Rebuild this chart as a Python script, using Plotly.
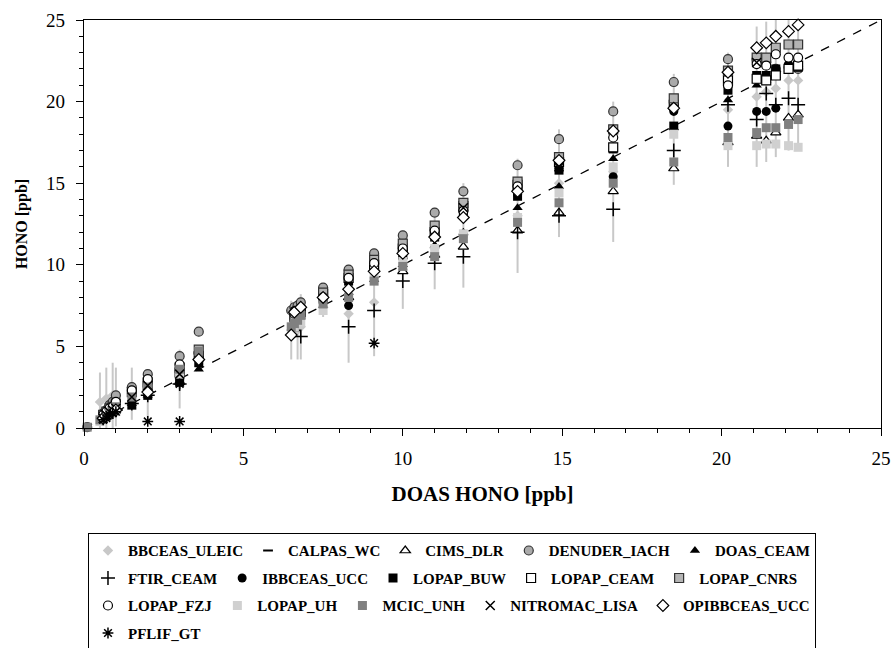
import plotly.graph_objects as go

# ---------------- data ----------------
line_x = [0, 25]
line_y = [0, 25]

bbceas_x = [0.5, 0.7, 0.9, 1.0, 1.5, 2.0, 3.0, 6.5, 6.7, 6.8, 7.5, 8.3, 9.1, 10.0, 11.0, 11.9, 13.6, 14.9, 16.6, 18.5, 20.2, 21.1, 21.4, 21.7, 22.1, 22.4]
bbceas_y = [1.6, 1.8, 2.0, 1.9, 2.1, 2.0, 3.0, 6.0, 6.0, 6.2, 7.8, 7.0, 7.7, 9.7, 11.0, 11.8, 13.0, 15.0, 15.7, 18.3, 19.5, 20.3, 20.6, 20.8, 21.3, 21.3]
bbceas_err = [1.8, 1.9, 2.0, 1.8, 1.6, 1.5, 1.8, 1.8, 1.8, 2.0, 1.0, 3.0, 3.3, 2.4, 2.5, 3.2, 3.5, 3.3, 4.3, 3.4, 3.5, 4.3, 4.3, 4.2, 4.3, 4.3]

calpas_x = [0.6, 0.8, 1.0]
calpas_y = [0.7, 0.9, 1.2]

cims_x = [6.6, 8.3, 10.0, 11.0, 11.9, 13.6, 14.9, 16.6, 18.5, 20.2, 21.1, 21.4, 21.7, 22.1, 22.4]
cims_y = [6.1, 8.0, 9.6, 10.6, 11.1, 12.1, 13.2, 14.5, 15.9, 17.5, 17.9, 17.6, 18.1, 19.0, 19.2]

denuder_x = [0.1, 0.6, 0.7, 0.8, 0.9, 1.0, 1.5, 2.0, 3.0, 3.6, 6.5, 6.6, 6.7, 6.8, 7.5, 8.3, 9.1, 10.0, 11.0, 11.9, 13.6, 14.9, 16.6, 18.5, 20.2, 21.1, 21.4, 21.7, 22.1, 22.4]
denuder_y = [0.05, 0.9, 1.1, 1.4, 1.6, 2.0, 2.5, 3.3, 4.4, 5.9, 7.2, 7.4, 7.5, 7.7, 8.6, 9.7, 10.7, 11.8, 13.2, 14.5, 16.1, 17.7, 19.4, 21.2, 22.6, 22.6, 22.4, 22.0, 22.1, 22.0]

doas_x = [0.6, 0.8, 1.0, 1.5, 2.0, 3.0, 3.6, 6.6, 6.8, 7.5, 8.3, 9.1, 10.0, 11.0, 11.9, 13.6, 14.9, 16.6, 18.5, 20.2, 21.1, 21.4, 21.7, 22.1, 22.4]
doas_y = [0.6, 0.8, 1.0, 1.5, 2.0, 2.9, 3.6, 6.6, 6.8, 7.5, 8.3, 9.1, 10.0, 11.2, 12.0, 13.5, 14.8, 16.5, 18.4, 20.1, 21.0, 21.3, 21.6, 22.0, 22.3]

ftir_x = [0.7, 1.0, 1.5, 2.0, 3.0, 6.8, 8.3, 9.1, 10.0, 11.0, 11.9, 13.6, 14.9, 16.6, 18.5, 20.2, 21.1, 21.4, 21.7, 22.1, 22.4]
ftir_y = [0.9, 1.1, 1.5, 2.0, 2.7, 5.6, 6.2, 7.2, 9.0, 10.1, 10.5, 12.0, 13.0, 13.4, 17.0, 19.8, 18.9, 20.5, 19.8, 20.2, 19.8]

ibbceas_x = [6.6, 6.8, 7.5, 8.3, 9.1, 10.0, 11.0, 11.9, 13.6, 14.9, 16.6, 18.5, 20.2, 21.1, 21.4, 21.7, 22.1, 22.4]
ibbceas_y = [7.2, 7.4, 8.1, 7.5, 9.8, 10.4, 11.8, 13.2, 14.3, 15.9, 15.4, 19.4, 18.5, 19.4, 19.4, 19.6, 22.3, 22.3]

buw_x = [0.6, 0.7, 0.8, 0.9, 1.0, 1.5, 2.0, 3.0, 3.6, 6.6, 6.8, 7.5, 8.3, 9.1, 10.0, 11.0, 11.9, 13.6, 14.9, 16.6, 18.5, 20.2, 21.1, 21.4, 21.7, 22.1, 22.4]
buw_y = [0.7, 0.8, 1.0, 1.1, 1.2, 1.4, 2.0, 2.8, 4.0, 6.8, 7.0, 7.9, 9.0, 9.8, 10.6, 11.7, 13.1, 14.2, 15.8, 17.1, 18.5, 20.7, 21.6, 21.6, 22.0, 22.1, 22.1]

ceam_x = [0.7, 1.0, 2.0, 3.0, 3.6, 6.6, 6.8, 7.5, 8.3, 9.1, 10.0, 11.0, 11.9, 13.6, 14.9, 16.6, 18.5, 20.2, 21.1, 21.4, 21.7, 22.1, 22.4]
ceam_y = [0.8, 1.4, 2.6, 3.4, 4.4, 6.9, 7.2, 8.2, 9.2, 10.0, 11.0, 12.0, 13.6, 14.9, 16.3, 17.2, 19.8, 21.3, 21.4, 21.3, 21.6, 22.0, 22.2]

cnrs_x = [0.6, 0.7, 0.8, 0.9, 1.0, 1.5, 2.0, 3.0, 3.6, 6.6, 6.8, 7.5, 8.3, 9.1, 10.0, 11.0, 11.9, 13.6, 14.9, 16.6, 18.5, 20.2, 21.1, 21.4, 21.7, 22.1, 22.4]
cnrs_y = [0.8, 1.0, 1.2, 1.3, 1.5, 2.2, 2.8, 3.7, 4.8, 6.8, 7.1, 8.3, 9.4, 10.3, 11.3, 12.4, 13.8, 15.1, 16.6, 18.3, 20.2, 21.9, 22.7, 22.7, 23.3, 23.5, 23.5]

fzj_x = [0.6, 0.7, 0.8, 0.9, 1.0, 1.5, 2.0, 3.0, 3.6, 6.6, 6.8, 7.5, 8.3, 9.1, 10.0, 11.0, 11.9, 13.6, 14.9, 16.6, 18.5, 20.2, 21.1, 21.4, 21.7, 22.1, 22.4]
fzj_y = [0.8, 1.0, 1.2, 1.3, 1.6, 2.3, 3.0, 3.9, 4.6, 7.0, 7.3, 8.0, 9.2, 10.1, 11.0, 12.1, 13.3, 14.8, 16.3, 17.8, 19.6, 21.0, 22.3, 22.2, 22.9, 22.7, 22.7]

uh_x = [0.5, 0.7, 1.0, 2.0, 3.0, 6.6, 6.8, 7.5, 8.3, 9.1, 10.0, 11.0, 11.9, 13.6, 14.9, 16.6, 18.5, 20.2, 21.1, 21.4, 21.7, 22.1, 22.4]
uh_y = [0.4, 0.7, 1.0, 2.4, 3.3, 6.2, 6.5, 7.2, 8.3, 9.4, 10.2, 11.0, 11.9, 12.9, 14.4, 16.0, 18.0, 17.3, 17.3, 17.4, 17.4, 17.3, 17.2]

mcic_x = [0.1, 0.5, 0.6, 0.7, 0.8, 0.9, 1.0, 1.5, 2.0, 3.0, 3.6, 6.5, 6.6, 6.7, 6.8, 7.5, 8.3, 9.1, 10.0, 11.0, 11.9, 13.6, 14.9, 16.6, 18.5, 20.2, 21.1, 21.4, 21.7, 22.1, 22.4]
mcic_y = [0.05, 0.5, 0.6, 0.7, 0.9, 1.0, 1.3, 1.9, 2.5, 3.6, 4.7, 6.2, 6.4, 6.6, 6.9, 7.6, 8.0, 9.0, 9.9, 10.5, 11.6, 12.6, 13.8, 15.0, 16.3, 17.8, 18.1, 18.4, 18.4, 18.6, 18.9]

nitromac_x = [0.6, 0.7, 0.8, 0.9, 1.0, 1.5, 2.0, 3.0, 11.9, 14.9, 21.1]
nitromac_y = [0.6, 0.8, 1.0, 1.1, 1.2, 1.9, 2.6, 3.3, 13.5, 16.0, 22.4]

opi_x = [0.6, 1.0, 2.0, 3.6, 6.5, 6.6, 6.8, 7.5, 8.3, 9.1, 10.0, 11.0, 11.9, 13.6, 14.9, 16.6, 18.5, 20.2, 21.1, 21.4, 21.7, 22.1, 22.4]
opi_y = [0.6, 1.1, 2.2, 4.2, 5.7, 7.1, 7.4, 8.0, 8.5, 9.6, 10.7, 11.7, 12.9, 14.5, 16.4, 18.2, 19.6, 21.8, 23.3, 23.6, 24.0, 24.3, 24.7]

pflif_x = [0.6, 0.7, 0.8, 0.9, 1.0, 2.0, 3.0, 3.0, 9.1]
pflif_y = [0.5, 0.6, 0.8, 0.9, 1.0, 0.4, 0.4, 2.7, 5.2]

# ---------------- figure ----------------
SERIF = "Liberation Serif"
fig = go.Figure()

fig.add_trace(go.Scatter(x=line_x, y=line_y, mode="lines", showlegend=False,
                         line=dict(color="black", width=1.3, dash="dash"), hoverinfo="skip"))

def add(name, xs, ys, symbol, color, size=9, lcolor=None, lwidth=0, err=None):
    kw = {}
    if err is not None:
        kw["error_y"] = dict(type="data", array=err, visible=True, color="#c8c8c8",
                             thickness=2, width=0)
    fig.add_trace(go.Scatter(
        x=xs, y=ys, mode="markers", name=name, legendgroup=name,
        cliponaxis=False,
        marker=dict(symbol=symbol, color=color, size=size,
                    line=dict(color=lcolor if lcolor else color, width=lwidth)),
        **kw))

add("BBCEAS_ULEIC", bbceas_x, bbceas_y, "diamond", "#c8c8c8", size=8, err=bbceas_err)
add("CALPAS_WC", calpas_x, calpas_y, "line-ew", "black", size=7, lcolor="black", lwidth=2)
add("CIMS_DLR", cims_x, cims_y, "triangle-up", "white", size=9, lcolor="black", lwidth=1.2)
add("DENUDER_IACH", denuder_x, denuder_y, "circle", "#aaaaaa", size=9, lcolor="#333333", lwidth=1.2)
add("DOAS_CEAM", doas_x, doas_y, "triangle-up", "black", size=9)
add("FTIR_CEAM", ftir_x, ftir_y, "cross-thin", "black", size=10, lcolor="black", lwidth=1.5)
add("IBBCEAS_UCC", ibbceas_x, ibbceas_y, "circle", "black", size=9)
add("LOPAP_BUW", buw_x, buw_y, "square", "black", size=9)
add("LOPAP_CEAM", ceam_x, ceam_y, "square", "white", size=9, lcolor="black", lwidth=1.2)
add("LOPAP_CNRS", cnrs_x, cnrs_y, "square", "#b4b4b4", size=9, lcolor="#333333", lwidth=1.2)
add("LOPAP_FZJ", fzj_x, fzj_y, "circle", "white", size=9, lcolor="black", lwidth=1.2)
add("LOPAP_UH", uh_x, uh_y, "square", "#d0d0d0", size=9)
add("MCIC_UNH", mcic_x, mcic_y, "square", "#808080", size=9)
add("NITROMAC_LISA", nitromac_x, nitromac_y, "x-thin", "black", size=9, lcolor="black", lwidth=1.5)
add("OPIBBCEAS_UCC", opi_x, opi_y, "diamond", "white", size=9, lcolor="black", lwidth=1.2)
add("PFLIF_GT", pflif_x, pflif_y, "asterisk", "black", size=9, lcolor="black", lwidth=1.5)

axis_common = dict(
    range=[0, 25], dtick=5, tick0=0, ticks="outside", ticklen=7, tickwidth=1,
    tickcolor="black", showline=True, linecolor="black", linewidth=1.2, mirror=True,
    showgrid=False, zeroline=False,
    minor=dict(dtick=1, ticks="outside", ticklen=4, tickcolor="black", tickwidth=1, showgrid=False),
    tickfont=dict(family=SERIF, size=19, color="black"),
)

fig.update_layout(
    width=895, height=648,
    margin=dict(l=84, r=14, t=20, b=220, autoexpand=False),
    paper_bgcolor="white", plot_bgcolor="white",
    xaxis=dict(**axis_common, ticklabelstandoff=6,
               title=dict(text="DOAS HONO [ppb]", standoff=18,
                          font=dict(family=SERIF, size=21, color="black", weight="bold"))),
    yaxis=dict(**axis_common, ticklabelstandoff=7,
               title=dict(text="HONO [ppb]", standoff=14,
                          font=dict(family=SERIF, size=16, color="black", weight="bold"))),
    legend=dict(orientation="h", traceorder="grouped", tracegroupgap=5,
                x=0.005, xanchor="left", y=-0.258, yanchor="top",
                bordercolor="black", borderwidth=1, bgcolor="white",
                font=dict(family=SERIF, size=15, color="black", weight="bold")),
)

fig.write_html("out.html")
